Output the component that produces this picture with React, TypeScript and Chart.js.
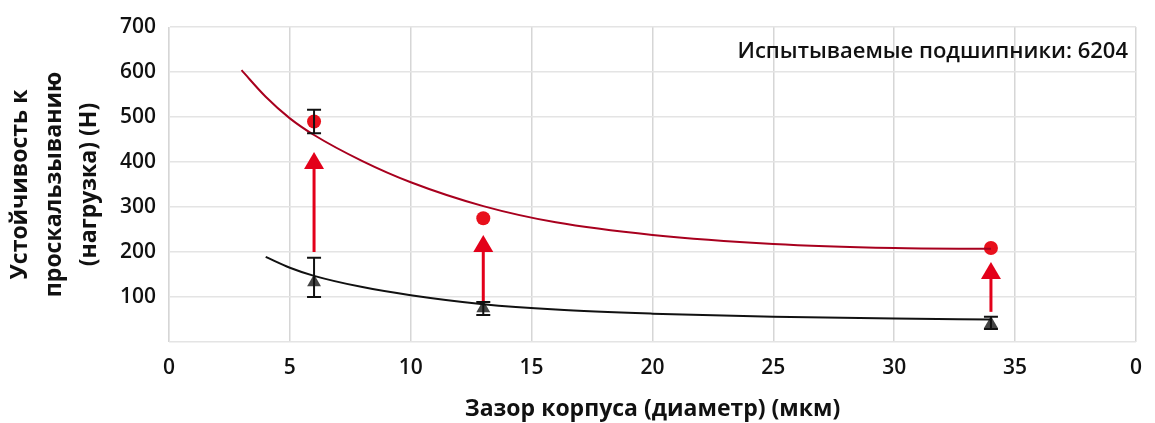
import { useEffect, useRef } from 'react';
import { Chart, registerables } from 'chart.js';

Chart.register(...registerables);

// ---- data ----
const xTickValues = [0, 5, 10, 15, 20, 25, 30, 35, 40];
const xTickLabels = ['0', '5', '10', '15', '20', '25', '30', '35', '0'];
const yTickValues = [0, 100, 200, 300, 400, 500, 600, 700];
const yTickLabels = ['', '100', '200', '300', '400', '500', '600', '700'];

const testX = [6, 13, 34];
const redMean = [490, 275, 209];
const redLow = [464, 275, 209];
const redHigh = [516, 275, 209];
const blackMean = [133, 75, 40];
const blackLow = [100, 60, 29];
const blackHigh = [187, 89, 56];
const arrowFrom = [200, 90, 67];
const arrowTo = [422, 238, 178];

const redFitX = [3, 4, 5, 6, 8, 10, 13, 16, 20, 25, 30, 34];
const redFitY = [604, 545, 497, 460, 402, 355, 302, 266, 238, 218, 209, 207];
const blackFitX = [4, 5, 6, 8, 10, 13, 16, 20, 25, 30, 34];
const blackFitY = [189, 165, 147, 122, 104, 84, 72, 63, 56, 52, 50];

const annotationText = 'Испытываемые подшипники: 6204';
const xTitle = 'Зазор корпуса (диаметр) (мкм)';
const yTitle = ['Устойчивость к', 'проскальзыванию', '(нагрузка) (Н)'];

const FONT = '"Open Sans", "DejaVu Sans", sans-serif';

const overlayPlugin = {
  id: 'overlay',
  afterDatasetsDraw(chart: any) {
    const ctx = chart.ctx;
    const xs = chart.scales.x;
    const ys = chart.scales.y;
    ctx.save();
    // arrows
    ctx.strokeStyle = '#e3001a';
    ctx.fillStyle = '#e3001a';
    for (let i = 0; i < testX.length; i++) {
      const px = xs.getPixelForValue(testX[i]);
      const y0 = ys.getPixelForValue(arrowFrom[i]);
      const y1 = ys.getPixelForValue(arrowTo[i]);
      const headH = 17;
      const headW = 10;
      ctx.lineWidth = 3;
      ctx.beginPath();
      ctx.moveTo(px, y0);
      ctx.lineTo(px, y1 + headH - 1);
      ctx.stroke();
      ctx.beginPath();
      ctx.moveTo(px, y1);
      ctx.lineTo(px + headW, y1 + headH);
      ctx.lineTo(px - headW, y1 + headH);
      ctx.closePath();
      ctx.fill();
    }
    // error bars
    ctx.strokeStyle = '#111';
    ctx.lineWidth = 2;
    const bar = (x: number, lo: number, hi: number) => {
      if (lo === hi) return;
      const px = xs.getPixelForValue(x);
      const pl = ys.getPixelForValue(lo);
      const ph = ys.getPixelForValue(hi);
      ctx.beginPath();
      ctx.moveTo(px, pl);
      ctx.lineTo(px, ph);
      ctx.moveTo(px - 7, pl);
      ctx.lineTo(px + 7, pl);
      ctx.moveTo(px - 7, ph);
      ctx.lineTo(px + 7, ph);
      ctx.stroke();
    };
    for (let i = 0; i < testX.length; i++) {
      bar(testX[i], redLow[i], redHigh[i]);
      bar(testX[i], blackLow[i], blackHigh[i]);
    }
    // annotation
    ctx.fillStyle = '#111';
    ctx.font = '600 22px ' + FONT;
    ctx.textAlign = 'right';
    ctx.textBaseline = 'middle';
    ctx.fillText(annotationText, chart.chartArea.right - 8, 52);
    ctx.restore();
  },
};

export default function App() {
  const ref = useRef<HTMLCanvasElement>(null);
  useEffect(() => {
    if (!ref.current) return;
    const chart = new Chart(ref.current, {
      type: 'scatter',
      data: {
        datasets: [
          {
            type: 'line',
            data: redFitX.map((x, i) => ({ x, y: redFitY[i] })),
            borderColor: '#a8001e',
            borderWidth: 2,
            pointRadius: 0,
            cubicInterpolationMode: 'monotone',
            fill: false,
          },
          {
            type: 'line',
            data: blackFitX.map((x, i) => ({ x, y: blackFitY[i] })),
            borderColor: '#111111',
            borderWidth: 2,
            pointRadius: 0,
            cubicInterpolationMode: 'monotone',
            fill: false,
          },
          {
            data: testX.map((x, i) => ({ x, y: redMean[i] })),
            pointStyle: 'circle',
            pointRadius: 7,
            pointBorderWidth: 0,
            backgroundColor: '#e8101c',
            borderColor: '#e8101c',
          },
          {
            data: testX.map((x, i) => ({ x, y: blackMean[i] })),
            pointStyle: 'triangle',
            pointRadius: 8,
            pointBorderWidth: 0,
            backgroundColor: '#444444',
            borderColor: '#444444',
          },
        ],
      } as any,
      options: {
        animation: false,
        responsive: false,
        layout: { padding: { top: 27, right: 10, left: 0, bottom: 0 } },
        plugins: { legend: { display: false }, tooltip: { enabled: false } },
        scales: {
          x: {
            type: 'linear',
            min: 0,
            max: 40,
            afterBuildTicks: (s: any) => {
              s.ticks = xTickValues.map((v) => ({ value: v }));
            },
            afterFit: (s: any) => {
              s.height = 81;
            },
            ticks: {
              padding: 13,
              color: '#111',
              font: { family: FONT, size: 21, weight: '600' },
              callback: (v: any) => xTickLabels[xTickValues.indexOf(Number(v))] ?? '',
              maxRotation: 0,
              autoSkip: false,
            },
            grid: { color: '#d6d6d6', lineWidth: 1.5, drawTicks: false },
            border: { display: false },
            title: {
              display: true,
              text: xTitle,
              color: '#111',
              font: { family: FONT, size: 23, weight: 'bold' },
              padding: { top: 0, bottom: 0 },
            },
          },
          y: {
            type: 'linear',
            min: 0,
            max: 700,
            afterBuildTicks: (s: any) => {
              s.ticks = yTickValues.map((v) => ({ value: v }));
            },
            afterFit: (s: any) => {
              s.width = 169;
            },
            ticks: {
              padding: 13,
              color: '#111',
              font: { family: FONT, size: 21, weight: '600' },
              callback: (v: any) => yTickLabels[yTickValues.indexOf(Number(v))] ?? '',
              autoSkip: false,
            },
            grid: { color: '#e4e4e4', lineWidth: 1.5, drawTicks: false },
            border: { display: true, color: '#e4e4e4' },
            title: {
              display: true,
              text: yTitle,
              color: '#111',
              font: { family: FONT, size: 23, weight: 'bold', lineHeight: 1.5 },
              padding: { top: 3, bottom: 0 },
            },
          },
        },
      } as any,
      plugins: [overlayPlugin],
    });
    return () => chart.destroy();
  }, []);
  return (
    <div style={{ position: 'fixed', left: 0, top: 0, width: 1155, height: 423, background: '#fff' }}>
      <canvas ref={ref} width={1155} height={423} style={{ width: 1155, height: 423 }} />
    </div>
  );
}
